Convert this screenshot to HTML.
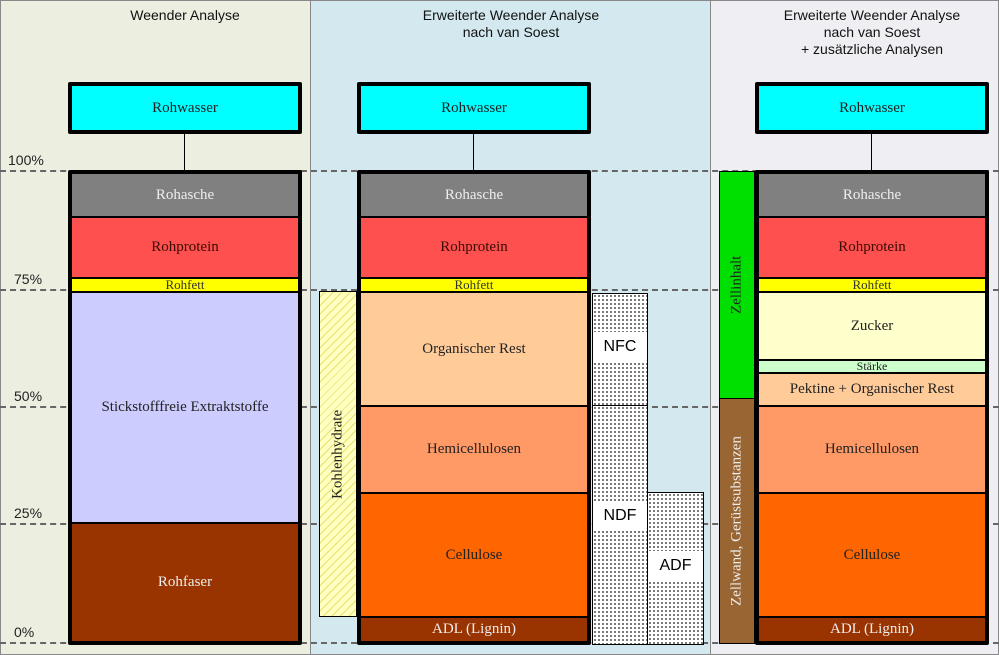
<!DOCTYPE html>
<html><head><meta charset="utf-8"><style>
*{margin:0;padding:0;box-sizing:border-box}
body{width:999px;height:655px;position:relative;overflow:hidden;background:#fff;font-family:"Liberation Serif",serif}
.a{position:absolute}
.h{font-family:"Liberation Sans",sans-serif;font-size:14px;color:#111;text-align:center;line-height:17px}
.st{position:absolute;border:4px solid #000;border-radius:2px;overflow:hidden}
.s{position:absolute;left:0;right:0;display:flex;align-items:center;justify-content:center;font-size:15px;border-top:2px solid #000;color:#3a0a00}
.dl{position:absolute;left:0;width:999px;border-top:2px dashed #666}
.pc{position:absolute;left:8px;font-family:"Liberation Sans",sans-serif;font-size:14px;color:#222}
.rw{position:absolute;background:#00ffff;border:4px solid #000;border-radius:2px;display:flex;align-items:center;justify-content:center;font-size:15px;color:#222}
.dot{background-color:#fff;background-image:radial-gradient(#000 0.7px,transparent 0.9px);background-size:4px 4px;border:1.5px solid #000}
.lab{background:#fff;font-family:"Liberation Sans",sans-serif;font-size:16px;position:absolute;left:0;right:0;text-align:center;padding:6px 0}
.v{position:absolute;writing-mode:vertical-rl;transform:rotate(180deg);font-size:15px;display:flex;align-items:center;justify-content:center}
</style></head><body>
<div class="a" style="left:0;top:0;width:311px;height:655px;background:#eceee0;border:1px solid #888"></div>
<div class="a" style="left:310px;top:0;width:401px;height:655px;background:#d3e9ef;border:1px solid #888"></div>
<div class="a" style="left:710px;top:0;width:289px;height:655px;background:#efeff3;border:1px solid #888"></div>

<div class="a h" style="left:30px;top:7px;width:310px">Weender Analyse</div>
<div class="a h" style="left:311px;top:7px;width:400px">Erweiterte Weender Analyse<br>nach van Soest</div>
<div class="a h" style="left:711px;top:7px;width:322px">Erweiterte Weender Analyse<br>nach van Soest<br>+ zusätzliche Analysen</div>

<div class="dl" style="top:170px"></div>
<div class="dl" style="top:289px"></div>
<div class="dl" style="top:406px"></div>
<div class="dl" style="top:523px"></div>
<div class="dl" style="top:642px"></div>
<div class="pc" style="top:152px">100%</div>
<div class="pc" style="top:271px;left:14px">75%</div>
<div class="pc" style="top:388px;left:14px">50%</div>
<div class="pc" style="top:505px;left:14px">25%</div>
<div class="pc" style="top:624px;left:14px">0%</div>

<div class="a" style="left:184px;top:132px;width:1px;height:40px;background:#000"></div>
<div class="a" style="left:473px;top:132px;width:1px;height:40px;background:#000"></div>
<div class="a" style="left:871px;top:132px;width:1px;height:40px;background:#000"></div>

<div class="rw" style="left:68px;top:82px;width:234px;height:52px">Rohwasser</div>
<div class="rw" style="left:357px;top:82px;width:234px;height:52px">Rohwasser</div>
<div class="rw" style="left:755px;top:82px;width:234px;height:52px">Rohwasser</div>

<div class="st" style="left:68px;top:170px;width:234px;height:475px">
<div class="s" style="top:0;height:42px;background:#808080;color:#eee;border:none">Rohasche</div>
<div class="s" style="top:42px;height:61px;background:#ff5050">Rohprotein</div>
<div class="s" style="top:103px;height:14px;background:#ffff00;font-size:13px;color:#333">Rohfett</div>
<div class="s" style="top:117px;height:231px;background:#ccccff;color:#222">Stickstofffreie Extraktstoffe</div>
<div class="s" style="top:348px;height:119px;background:#993300;color:#eee">Rohfaser</div>
</div>

<div class="a" style="left:319px;top:291px;width:38px;height:326px;border:1.5px solid #000;background:repeating-linear-gradient(135deg,#ffffc0 0 3px,#e8e070 3px 4px,#ffffc0 4px 6px)"></div>
<div class="v" style="left:319px;top:291px;width:38px;height:326px;color:#222">Kohlenhydrate</div>
<div class="st" style="left:357px;top:170px;width:234px;height:475px">
<div class="s" style="top:0;height:42px;background:#808080;color:#eee;border:none">Rohasche</div>
<div class="s" style="top:42px;height:61px;background:#ff5050">Rohprotein</div>
<div class="s" style="top:103px;height:14px;background:#ffff00;font-size:13px;color:#333">Rohfett</div>
<div class="s" style="top:117px;height:114px;background:#ffcc99;color:#222">Organischer Rest</div>
<div class="s" style="top:231px;height:87px;background:#ff9966;color:#222">Hemicellulosen</div>
<div class="s" style="top:318px;height:124px;background:#ff6600;color:#222">Cellulose</div>
<div class="s" style="top:442px;height:25px;background:#993300;color:#eee">ADL (Lignin)</div>
</div>
<div class="a dot" style="left:592px;top:293px;width:56px;height:113px"><div class="lab" style="top:38px">NFC</div></div>
<div class="a dot" style="left:592px;top:405px;width:56px;height:240px"><div class="lab" style="top:95px">NDF</div></div>
<div class="a dot" style="left:647px;top:492px;width:57px;height:153px"><div class="lab" style="top:58px">ADF</div></div>

<div class="a" style="left:719px;top:171px;width:36px;height:228px;background:#00e000;border:1.5px solid #000"></div>
<div class="v" style="left:719px;top:171px;width:36px;height:228px;color:#222">Zellinhalt</div>
<div class="a" style="left:719px;top:398px;width:36px;height:246px;background:#996633;border:1.5px solid #000"></div>
<div class="v" style="left:719px;top:398px;width:36px;height:246px;color:#eee">Zellwand, Gerüstsubstanzen</div>
<div class="st" style="left:755px;top:170px;width:234px;height:475px">
<div class="s" style="top:0;height:42px;background:#808080;color:#eee;border:none">Rohasche</div>
<div class="s" style="top:42px;height:61px;background:#ff5050">Rohprotein</div>
<div class="s" style="top:103px;height:14px;background:#ffff00;font-size:13px;color:#333">Rohfett</div>
<div class="s" style="top:117px;height:68px;background:#ffffcc;color:#222">Zucker</div>
<div class="s" style="top:185px;height:13px;background:#ccffcc;font-size:12px;color:#222">Stärke</div>
<div class="s" style="top:198px;height:33px;background:#ffcc99;color:#222">Pektine + Organischer Rest</div>
<div class="s" style="top:231px;height:87px;background:#ff9966;color:#222">Hemicellulosen</div>
<div class="s" style="top:318px;height:124px;background:#ff6600;color:#222">Cellulose</div>
<div class="s" style="top:442px;height:25px;background:#993300;color:#eee">ADL (Lignin)</div>
</div>
</body></html>
